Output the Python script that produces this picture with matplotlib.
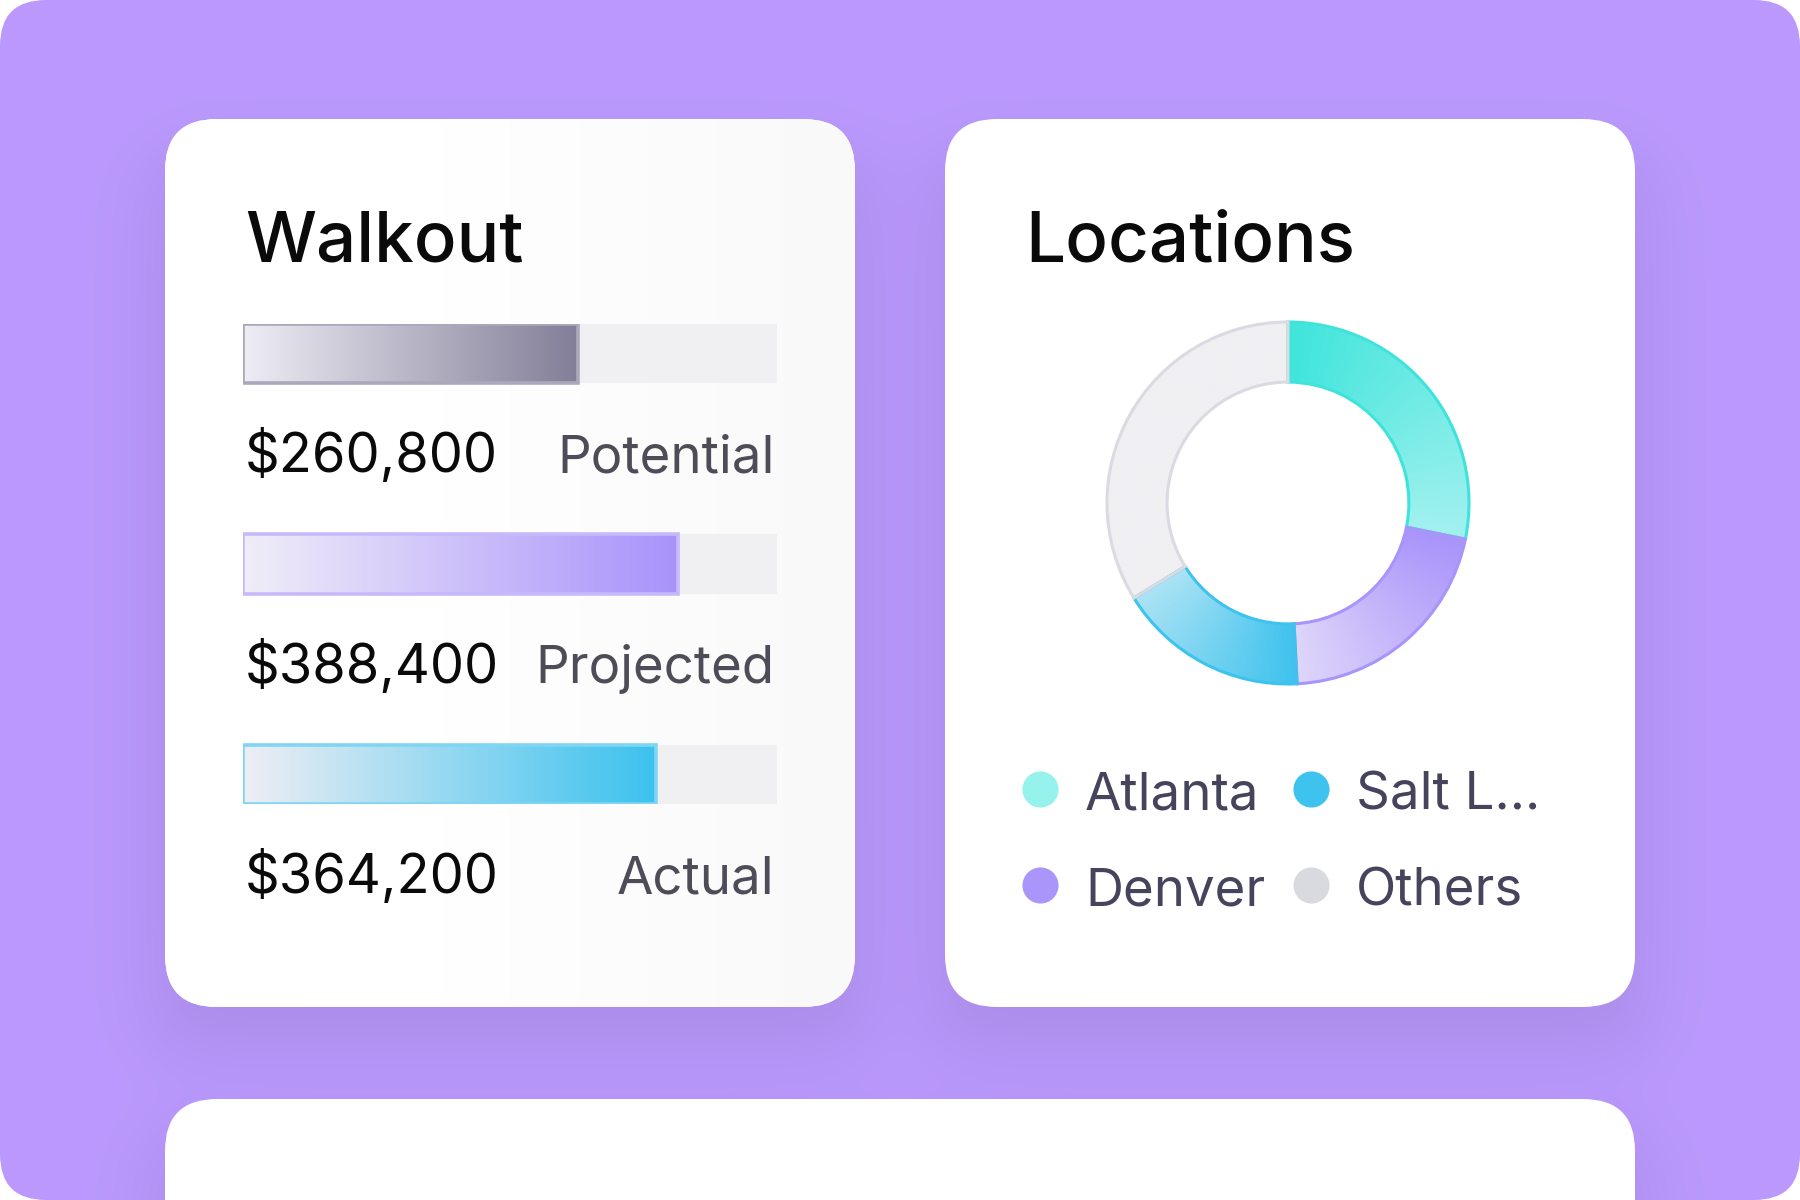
import numpy as np
import matplotlib.pyplot as plt
from matplotlib.patches import FancyBboxPatch
from matplotlib.colors import LinearSegmentedColormap, to_rgb

plt.rcParams['font.family'] = ['Inter', 'DejaVu Sans']

W, H = 1800, 1200

# Walkout 数据
bar_values = ['$260,800', '$388,400', '$364,200']
bar_labels = ['Potential', 'Projected', 'Actual']
bar_fill = [62.8, 81.5, 77.4]  # 进度条填充百分比

# Locations 数据
loc_labels = ['Atlanta', 'Denver', 'Salt L...', 'Others']
loc_share = [28.2, 21.0, 17.0, 33.8]

# 样式
bar_grad = [('#EEEDF4', '#827E98'), ('#F0EEF8', '#A892FB'), ('#EEEEF4', '#3BC2EE')]
bar_edge = ['#ABA8BB', '#C8B9FB', '#80D6F2']
wedge_grad = [('#3FE5DB', '#A2F1EF'), ('#A993FB', '#DED6FA'),
              ('#3EC2EE', '#ACE3F5'), ('#F0F0F3', '#F0F0F3')]
wedge_edge = ['#3FE3DB', '#A994FB', '#3EC2EE', '#DADAE2']
legend_dot = ['#96F2EC', '#AA96FB', '#3EC3EE', '#D9D9E0']

cards = [(165, 855, 119, 1007), (945, 1635, 119, 1007), (165, 1635, 1099, 1300)]

fig = plt.figure(figsize=(18, 12), dpi=100)
fig.patch.set_facecolor('white')
bg = fig.add_axes([0, 0, 1, 1])
bg.set_xlim(0, W)
bg.set_ylim(H, 0)
bg.axis('off')

# 紫色背景 + 卡片阴影
xs = np.linspace(0, W, 450)
ys = np.linspace(0, H, 300)
X, Y = np.meshgrid(xs, ys)
shade = np.zeros_like(X)
for x0, x1, y0, y1 in cards:
    s = 45
    sx = 0.5 * (np.tanh((X - x0 + 10) / s) - np.tanh((X - x1 - 10) / s))
    sy = 0.5 * (np.tanh((Y - y0 - 40) / s) - np.tanh((Y - y1 - 40) / s))
    shade += sx * sy
shade = np.clip(shade, 0, 1)
base = np.array(to_rgb('#BB99FE'))
dark = np.array(to_rgb('#AA8CE8'))
img = base[None, None, :] * (1 - shade[..., None]) + dark[None, None, :] * shade[..., None]
frame = FancyBboxPatch((0, 0), W, H, boxstyle='round,pad=0,rounding_size=46',
                       facecolor='none', edgecolor='none')
bg.add_patch(frame)
im = bg.imshow(img, extent=[0, W, H, 0], interpolation='bilinear', aspect='auto')
im.set_clip_path(frame)

for i, (x0, x1, y0, y1) in enumerate(cards):
    card = FancyBboxPatch((x0, y0), x1 - x0, y1 - y0, boxstyle='round,pad=0,rounding_size=52',
                          facecolor='white', edgecolor='none', zorder=2)
    bg.add_patch(card)
    card.set_clip_path(frame)
    if i == 0:
        g = np.clip((np.linspace(0, 1, 200) - 0.4) / 0.6, 0, 1)[None, :]
        cm = LinearSegmentedColormap.from_list('card', ['#FFFFFF', '#F9F9FA'])
        ci = bg.imshow(g, extent=[x0, x1, y1, y0], cmap=cm, aspect='auto', zorder=2.1)
        ci.set_clip_path(card)
bg.set_xlim(0, W)
bg.set_ylim(H, 0)

bg.text(245, 262, 'Walkout', fontsize=51, fontweight='medium', color='#0A0A0A', zorder=5)
bg.text(1025, 262, 'Locations', fontsize=51, fontweight='medium', color='#0A0A0A', zorder=5)

# 进度条
h = 59 / 210
axb = fig.add_axes([243 / W, 1 - 804 / H, (777 - 243) / W, (804 - 324) / H])
axb.set_facecolor('none')
pos = np.arange(len(bar_fill))
axb.barh(pos, 100, height=h, color='#F0F0F3', zorder=1)
rects = axb.barh(pos, bar_fill, height=h, color='none', edgecolor=bar_edge, linewidth=2.6, zorder=3)
for r, (c0, c1) in zip(rects, bar_grad):
    cm = LinearSegmentedColormap.from_list('b', [c0, c1])
    g = np.linspace(0, 1, 256)[None, :]
    bi = axb.imshow(g, extent=[r.get_x(), r.get_x() + r.get_width(), r.get_y() + h, r.get_y()],
                    cmap=cm, aspect='auto', zorder=2)
    bi.set_clip_path(r)
for p, v, lab in zip(pos, bar_values, bar_labels):
    axb.text(0.3, p + 0.565, v, fontsize=39, color='#0A0A0A', va='baseline', ha='left', clip_on=False)
    axb.text(99.5, p + 0.565, lab, fontsize=38, color='#4E4D57', va='baseline', ha='right', clip_on=False)
axb.set_xlim(0, 100)
axb.set_ylim(2 + h / 2, -h / 2)
axb.axis('off')

# 环形图
axp = fig.add_axes([1088 / W, 1 - 703 / H, 400 / W, 400 / H])
axp.set_facecolor('none')
wedges, _ = axp.pie(loc_share, startangle=90, counterclock=False, radius=1,
                    wedgeprops=dict(width=0.332, linewidth=2.2))
gx = np.linspace(-1.1, 1.1, 500)
GX, GY = np.meshgrid(gx, gx[::-1])
ang = np.degrees(np.arctan2(GY, GX))
for w, (c0, c1), ec in zip(wedges, wedge_grad, wedge_edge):
    span = w.theta2 - w.theta1
    t = np.clip(((w.theta2 - ang) % 360) / span, 0, 1)
    cm = LinearSegmentedColormap.from_list('w', [c0, c1])
    wi = axp.imshow(cm(t), extent=[-1.1, 1.1, -1.1, 1.1], zorder=1)
    wi.set_clip_path(w)
    w.set_facecolor('none')
    w.set_edgecolor(ec)
    w.set_zorder(3)
axp.set_xlim(-200 / 181, 200 / 181)
axp.set_ylim(-200 / 181, 200 / 181)
axp.set_aspect('equal')
axp.axis('off')

# 图例（两列，按列排布）
for i, (lab, c) in enumerate(zip(loc_labels, legend_dot)):
    col, row = i // 2, i % 2
    cx, cy = 1040 + col * 271, 789 + row * 96
    bg.scatter([cx], [cy], s=26 ** 2, color=c, zorder=5, linewidths=0)
    bg.text(cx + 45, cy + 21, lab, fontsize=38, color='#46445C', va='baseline', zorder=5)

fig.savefig('out.png', dpi=100, facecolor='white')
